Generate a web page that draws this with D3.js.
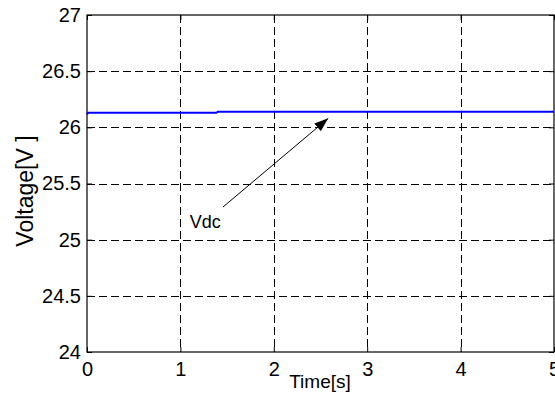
<!DOCTYPE html>
<html>
<head>
<meta charset="utf-8">
<script src="https://cdn.jsdelivr.net/npm/d3@7"></script>
<style>
  html, body { margin: 0; padding: 0; background: #fff; }
  text { font-family: "Liberation Sans", Arial, sans-serif; fill: #000; }
</style>
</head>
<body>
<svg id="chart" width="555" height="410"></svg>
<script>
// ---- data ----
const timeS = [0, 0.01, 1.385, 1.40, 5];
const vdc = [26.115, 26.13, 26.13, 26.139, 26.139];
const xTicks = [0, 1, 2, 3, 4, 5];
const yTicks = [24, 24.5, 25, 25.5, 26, 26.5, 27];
const yTickLabels = ["24", "24.5", "25", "25.5", "26", "26.5", "27"];
const annotText = "Vdc";
const annotLabelPos = [1.10, 25.107];
const arrowFrom = [1.455, 25.29];
const arrowTo = [2.583, 26.08];

// ---- layout ----
const svg = d3.select("#chart");
const m = { left: 87, top: 15, right: 1, bottom: 58 };
const W = 555, H = 410;
const x = d3.scaleLinear().domain([0, 5]).range([m.left, W - m.right]);
const y = d3.scaleLinear().domain([24, 27]).range([H - m.bottom, m.top]);

svg.append("rect").attr("width", W).attr("height", H).attr("fill", "#fff");

// grid
const grid = svg.append("g").attr("stroke", "#000").attr("stroke-width", 1)
  .attr("stroke-dasharray", "8,4").attr("fill", "none");
xTicks.slice(1, -1).forEach(t => {
  grid.append("line").attr("x1", Math.round(x(t)) + 0.5).attr("x2", Math.round(x(t)) + 0.5)
    .attr("y1", y(27)).attr("y2", y(24));
});
yTicks.slice(1, -1).forEach(t => {
  grid.append("line").attr("y1", Math.round(y(t)) + 0.5).attr("y2", Math.round(y(t)) + 0.5)
    .attr("x1", x(0)).attr("x2", x(5));
});

// axes (ticks inside, box)
const axB = d3.axisBottom(x).tickValues(xTicks).tickSize(-5).tickPadding(10).tickFormat(d3.format("d"));
const axT = d3.axisTop(x).tickValues(xTicks).tickSize(-5).tickFormat("");
const axL = d3.axisLeft(y).tickValues(yTicks).tickSize(-5).tickPadding(6).tickFormat((d, i) => yTickLabels[i]);
const axR = d3.axisRight(y).tickValues(yTicks).tickSize(-5).tickFormat("");

function styleAxis(g) {
  g.select(".domain").remove();
  g.selectAll(".tick line").attr("stroke", "#000");
  g.selectAll("text").attr("font-size", 20).attr("font-family", "Liberation Sans, Arial, sans-serif").attr("fill", "#000");
}
svg.append("g").attr("transform", `translate(0,${y(24)})`).call(axB).call(styleAxis);
svg.append("g").attr("transform", `translate(0,${y(27)})`).call(axT).call(styleAxis);
svg.append("g").attr("transform", `translate(${x(0)},0)`).call(axL).call(styleAxis);
svg.append("g").attr("transform", `translate(${x(5)},0)`).call(axR).call(styleAxis);

// box
svg.append("rect").attr("x", x(0)).attr("y", y(27))
  .attr("width", x(5) - x(0)).attr("height", y(24) - y(27))
  .attr("fill", "none").attr("stroke", "#000").attr("stroke-width", 1.2);

// series
const line = d3.line().x((d, i) => x(timeS[i])).y(d => y(d));
svg.append("path").datum(vdc).attr("d", line)
  .attr("fill", "none").attr("stroke", "#0000ff").attr("stroke-width", 2);

// annotation arrow
svg.append("defs").append("marker").attr("id", "ah")
  .attr("viewBox", "0 0 14 10").attr("refX", 14).attr("refY", 5)
  .attr("markerWidth", 14).attr("markerHeight", 10).attr("markerUnits", "userSpaceOnUse")
  .attr("orient", "auto")
  .append("path").attr("d", "M0,0 L14,5 L0,10 Z").attr("fill", "#000");
svg.append("line")
  .attr("x1", x(arrowFrom[0])).attr("y1", y(arrowFrom[1]))
  .attr("x2", x(arrowTo[0])).attr("y2", y(arrowTo[1]))
  .attr("stroke", "#000").attr("stroke-width", 1).attr("marker-end", "url(#ah)");
svg.append("text").attr("x", x(annotLabelPos[0])).attr("y", y(annotLabelPos[1]))
  .attr("font-size", 18).text(annotText);

// axis labels
svg.append("text").attr("x", 320).attr("y", 388).attr("text-anchor", "middle")
  .attr("font-size", 19).text("Time[s]");
svg.append("text").attr("transform", "translate(32.5,191) rotate(-90)")
  .attr("text-anchor", "middle").attr("font-size", 23).text("Voltage[V ]");
</script>
</body>
</html>
